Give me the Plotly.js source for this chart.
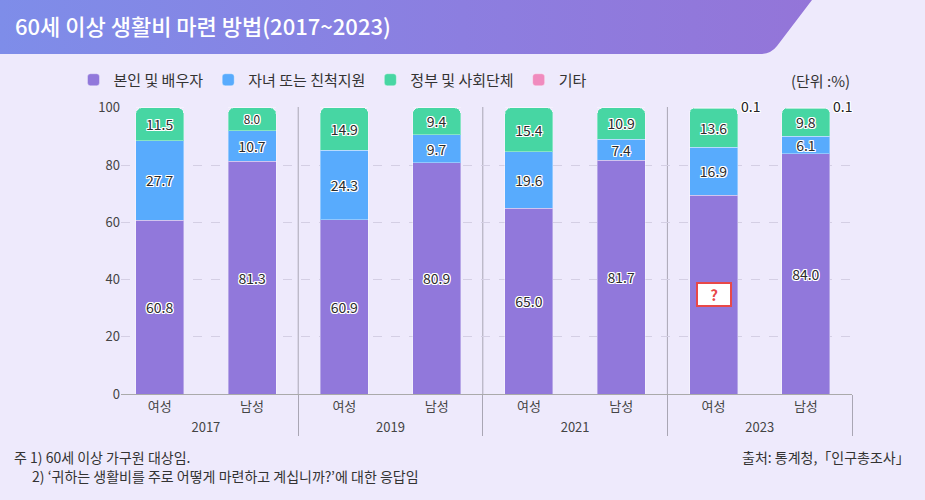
<!DOCTYPE html>
<html>
<head>
<meta charset="utf-8">
<script src="https://cdn.plot.ly/plotly-3.0.1.min.js"></script>
<style>
  html, body { margin: 0; padding: 0; background: #EEEAFC; }
  #wrap { position: relative; width: 925px; height: 500px; overflow: hidden; background: #EEEAFC; }
  #banner { position: absolute; left: 0; top: 0; width: 925px; height: 56px;
    background: linear-gradient(90deg, #7E8DE9 0%, #8C7EE0 50%, #9672D6 100%);
    clip-path: path('M0 0 H812 L777 46 Q771 54 760 54 H0 Z'); }
  #chart { position: absolute; left: 0; top: 0; width: 925px; height: 500px; }
</style>
</head>
<body>
<div id="wrap">
  <div id="banner"></div>
  <div id="chart"></div>
</div>
<script>
const years   = ['2017','2017','2019','2019','2021','2021','2023','2023'];
const genders = ['여성','남성','여성','남성','여성','남성','여성','남성'];
const selfSpouse = [60.8, 81.3, 60.9, 80.9, 65.0, 81.7, 69.4, 84.0];
const children   = [27.7, 10.7, 24.3, 9.7, 19.6, 7.4, 16.9, 6.1];
const government = [11.5, 8.0, 14.9, 9.4, 15.4, 10.9, 13.6, 9.8];
const others     = [0, 0, 0, 0, 0, 0, 0.1, 0.1];
const hiddenLabel = [false, false, false, false, false, false, true, false];
const seriesNames = ['본인 및 배우자', '자녀 또는 친척지원', '정부 및 사회단체', '기타'];
const colors = ['#9178DB', '#58ABFD', '#47D6A3', '#F08BBE'];

const FONT = '"Noto Sans CJK KR", "Noto Sans", sans-serif';
const halo = '1px 1px 0 #fff, -1px -1px 0 #fff, 1px -1px 0 #fff, -1px 1px 0 #fff, 0 1px 0 #fff, 0 -1px 0 #fff, 1px 0 0 #fff, -1px 0 0 #fff';

function mkText(vals, hide) {
  return vals.map((v, i) => (hide && hide[i]) || v === 0 ? '' : v.toFixed(1));
}

const allVals = [selfSpouse, children, government, others];
const traces = allVals.map((vals, k) => ({
  type: 'bar',
  name: seriesNames[k],
  x: [years, genders],
  y: vals,
  width: 0.52,
  marker: { color: colors[k], line: { color: 'rgba(255,255,255,0.35)', width: 1 } },
  text: k === 3 ? null : mkText(vals, k === 0 ? hiddenLabel : null),
  textposition: k === 3 ? 'none' : 'inside',
  insidetextanchor: 'middle',
  constraintext: 'none',
  textangle: 0,
  textfont: { family: FONT, size: 14, color: '#2b2b2b', shadow: halo },
  hoverinfo: 'skip'
}));

const annotations = [];
// small "기타" labels to the right of bar tops
others.forEach((v, i) => {
  if (v > 0) {
    const top = selfSpouse[i] + children[i] + government[i] + v;
    annotations.push({
      x: i, y: top, xref: 'x', yref: 'y', text: v.toFixed(1), showarrow: false,
      xanchor: 'left', yanchor: 'middle', xshift: 25, yshift: 2,
      font: { family: FONT, size: 14, color: '#222', shadow: halo }
    });
  }
});
// missing value marker
hiddenLabel.forEach((h, i) => {
  if (h) {
    annotations.push({
      x: i, y: selfSpouse[i] / 2, xref: 'x', yref: 'y', text: '<b>?</b>', showarrow: false,
      bgcolor: '#ffffff', bordercolor: '#E84848', borderwidth: 2, borderpad: 1, width: 30, height: 19,
      font: { family: FONT, size: 15, color: '#E84848' }
    });
  }
});
annotations.push(
  { xref: 'paper', yref: 'paper', x: 1.0, y: 1.094, xanchor: 'right', yanchor: 'middle',
    text: '(단위 :%)', showarrow: false, font: { family: FONT, size: 15, color: '#333' } },
  { xref: 'paper', yref: 'paper', x: -0.148, y: 1.284, xanchor: 'left', yanchor: 'middle',
    text: '60세 이상 생활비 마련 방법(2017~2023)', showarrow: false,
    font: { family: FONT, size: 22, color: '#ffffff', weight: 500 } },
  { xref: 'paper', yref: 'paper', x: -0.149, y: -0.219, xanchor: 'left', yanchor: 'middle',
    text: '주 1) 60세 이상 가구원 대상임.', showarrow: false, font: { family: FONT, size: 14, color: '#333' } },
  { xref: 'paper', yref: 'paper', x: -0.125, y: -0.286, xanchor: 'left', yanchor: 'middle',
    text: '2) ‘귀하는 생활비를 주로 어떻게 마련하고 계십니까?’에 대한 응답임', showarrow: false,
    font: { family: FONT, size: 14, color: '#333' } },
  { xref: 'paper', yref: 'paper', x: 1.082, y: -0.219, xanchor: 'right', yanchor: 'middle',
    text: '출처: 통계청,「인구총조사」', showarrow: false, font: { family: FONT, size: 14, color: '#333' } }
);

const shapes = [1.5, 3.5, 5.5].map(xv => ({
  type: 'line', xref: 'x', yref: 'paper', x0: xv, x1: xv, y0: 0, y1: 1,
  line: { color: '#a9a6b4', width: 1 }, layer: 'below'
}));

const layout = {
  width: 925, height: 500,
  margin: { l: 121, r: 73, t: 107, b: 106 },
  paper_bgcolor: 'rgba(0,0,0,0)',
  plot_bgcolor: 'rgba(0,0,0,0)',
  barmode: 'stack',
  barcornerradius: 6,
  font: { family: FONT, size: 13, color: '#444' },
  showlegend: true,
  legend: {
    orientation: 'h', x: -0.065, y: 1.094, xanchor: 'left', yanchor: 'middle',
    font: { family: FONT, size: 15, color: '#333' }, traceorder: 'normal',
    bgcolor: 'rgba(0,0,0,0)'
  },
  xaxis: {
    type: 'multicategory', range: [-0.42, 7.5],
    showline: true, linecolor: '#aaa', linewidth: 1,
    showdividers: true, dividercolor: '#a9a6b4', dividerwidth: 1,
    tickfont: { family: FONT, size: 13, color: '#444' },
    ticks: '', showgrid: false
  },
  yaxis: {
    range: [0, 100.3], dtick: 20, tick0: 0,
    showgrid: true, gridcolor: '#d4cfe4', griddash: 'dash', gridwidth: 1,
    zeroline: false, showline: false, ticks: '',
    tickfont: { family: FONT, size: 13, color: '#444' }
  },
  shapes: shapes,
  annotations: annotations
};

Plotly.newPlot('chart', traces, layout, { displayModeBar: false, staticPlot: true });
</script>
</body>
</html>
